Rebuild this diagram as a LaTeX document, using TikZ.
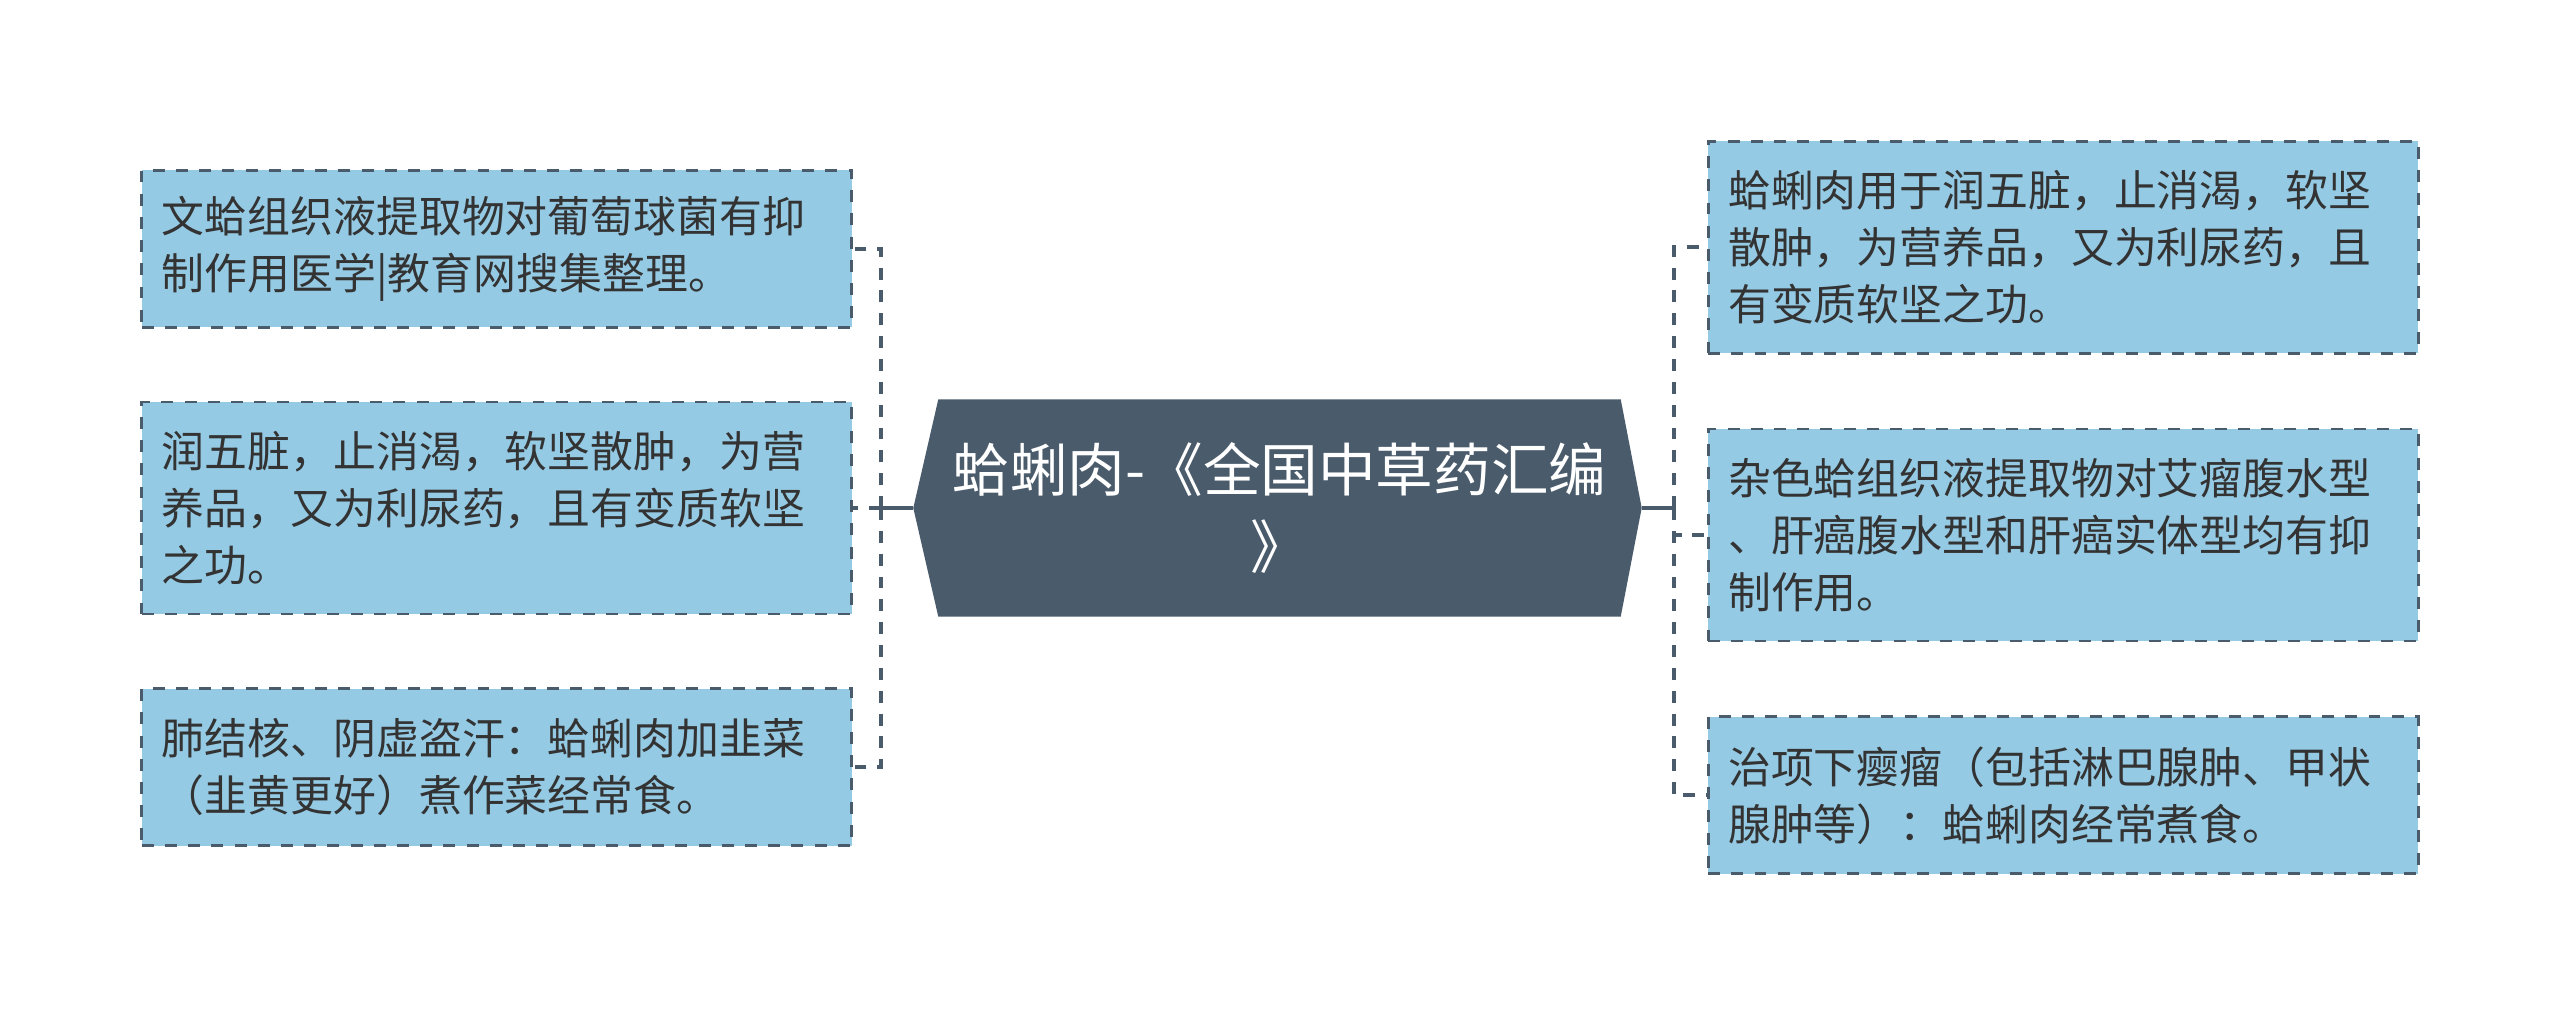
\documentclass[tikz,border=0pt]{standalone}
\usepackage{fontspec}
\setmainfont{Noto Sans CJK SC}
\usepackage{tikz}
\usetikzlibrary{positioning,backgrounds,calc}
\definecolor{slate}{HTML}{4A5B6B}
\definecolor{leafblue}{HTML}{95CAE4}
\definecolor{ink}{HTML}{333333}
\tikzset{
  root/.style={rectangle, align=center, minimum width=6.81cm, minimum height=2.16cm, inner sep=0pt, text=white, font=\fontsize{16.4pt}{21.9pt}\selectfont},
  leaf/.style={rectangle, draw=slate, line width=0.8pt, dash pattern=on 3.4pt off 3.2pt, fill=leafblue, text=ink, align=left, text width=6.7cm, inner xsep=0.2cm, inner ysep=0pt, minimum height=1.57cm, font=\fontsize{12.2pt}{16.2pt}\selectfont},
  tall/.style={minimum height=2.12cm},
  link/.style={draw=slate, line width=1.1pt},
  dashedlink/.style={link, dash pattern=on 3.4pt off 3.1pt}
}

\begin{document}
\begin{tikzpicture}
  \useasboundingbox (0,0) rectangle (25.6,-10.17);
  \node[root] (root) at (12.795,-5.08) {蛤蜊肉-《全国中草药汇编\\》};
  \begin{scope}[on background layer]
    \fill[slate] (root.north west) -- (root.north east) -- ([xshift=0.21cm]root.east)
      -- (root.south east) -- (root.south west) -- ([xshift=-0.25cm]root.west) -- cycle;
  \end{scope}
  % left side
  \node[leaf, tall, left=0.85cm of root] (l2) {润五脏，止消渴，软坚散肿，为营\\养品，又为利尿药，且有变质软坚\\之功。};
  \node[leaf, above=0.72cm of l2] (l1) {文蛤组织液提取物对葡萄球菌有抑\\制作用医学|教育网搜集整理。};
  \node[leaf, below=0.72cm of l2] (l3) {肺结核、阴虚盗汗：蛤蜊肉加韭菜\\（韭黄更好）煮作菜经常食。};
  % right side
  \node[leaf, tall, right=0.86cm of root, yshift=-0.27cm] (r2) {杂色蛤组织液提取物对艾瘤腹水型\\、肝癌腹水型和肝癌实体型均有抑\\制作用。};
  \node[leaf, tall, above=0.73cm of r2] (r1) {蛤蜊肉用于润五脏，止消渴，软坚\\散肿，为营养品，又为利尿药，且\\有变质软坚之功。};
  \node[leaf, below=0.73cm of r2] (r3) {治项下瘿瘤（包括淋巴腺肿、甲状\\腺肿等）：蛤蜊肉经常煮食。};
  % connectors
  \coordinate (ltip) at ([xshift=-0.25cm]root.west);
  \coordinate (lj) at ([xshift=-0.57cm]root.west);
  \coordinate (rtip) at ([xshift=0.21cm]root.east);
  \coordinate (rj) at ([xshift=0.53cm]root.east);
  \draw[link] (ltip) -- (lj);
  \draw[dashedlink] (lj) |- (l1.east);
  \draw[dashedlink] (lj) -- (l2.east);
  \draw[dashedlink] (lj) |- (l3.east);
  \draw[link] (rtip) -- (rj);
  \draw[dashedlink] (rj) |- (r1.west);
  \draw[dashedlink] (rj) |- (r2.west);
  \draw[dashedlink] (rj) |- (r3.west);
\end{tikzpicture}
\end{document}
